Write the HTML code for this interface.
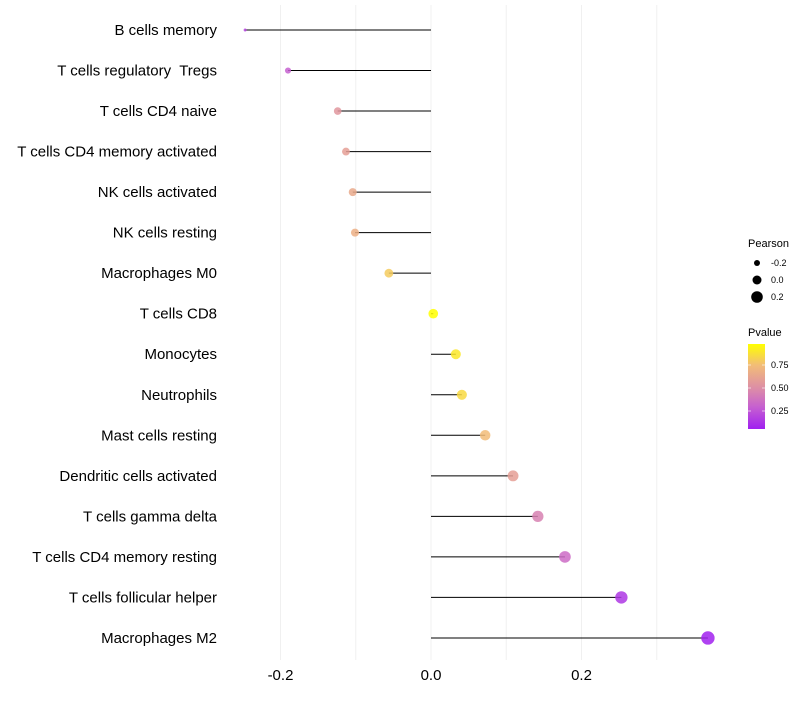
<!DOCTYPE html>
<html><head><meta charset="utf-8"><style>
body{margin:0;background:#fff;font-family:"Liberation Sans",sans-serif}
text{white-space:pre}
</style></head><body>
<svg id="chart" width="800" height="700" xmlns="http://www.w3.org/2000/svg">
<defs>
<linearGradient id="pgrad" x1="0" y1="1" x2="0" y2="0">
<stop offset="0" stop-color="#a020f0"/>
<stop offset="0.26" stop-color="#c660d0"/>
<stop offset="0.47" stop-color="#dc8ca8"/>
<stop offset="0.75" stop-color="#f2bc78"/>
<stop offset="1" stop-color="#ffff00"/>
</linearGradient>
</defs>
<g id="grid"></g>
<g id="marks"></g>
<g id="labels"></g>
<g id="legend">
<text x="748" y="247" font-size="11" fill="#000">Pearson</text>
<circle cx="757" cy="263" r="3" fill="#000"/>
<text x="771" y="266" font-size="9" fill="#000">-0.2</text>
<circle cx="757" cy="280" r="4.5" fill="#000"/>
<text x="771" y="283" font-size="9" fill="#000">0.0</text>
<circle cx="757" cy="297" r="5.8" fill="#000"/>
<text x="771" y="300" font-size="9" fill="#000">0.2</text>
<text x="748" y="336" font-size="11" fill="#000">Pvalue</text>
<rect x="748" y="344" width="17" height="85" fill="url(#pgrad)"/>
<line x1="748" y1="365" x2="751" y2="365" stroke="#fff" opacity="0.6"/><line x1="762" y1="365" x2="765" y2="365" stroke="#fff" opacity="0.6"/>
<line x1="748" y1="388" x2="751" y2="388" stroke="#fff" opacity="0.6"/><line x1="762" y1="388" x2="765" y2="388" stroke="#fff" opacity="0.6"/>
<line x1="748" y1="411" x2="751" y2="411" stroke="#fff" opacity="0.6"/><line x1="762" y1="411" x2="765" y2="411" stroke="#fff" opacity="0.6"/>
<text x="771" y="368" font-size="9" fill="#000">0.75</text>
<text x="771" y="391" font-size="9" fill="#000">0.50</text>
<text x="771" y="414" font-size="9" fill="#000">0.25</text>
</g>
</svg>
<script>
const categories=["B cells memory","T cells regulatory  Tregs","T cells CD4 naive","T cells CD4 memory activated","NK cells activated","NK cells resting","Macrophages M0","T cells CD8","Monocytes","Neutrophils","Mast cells resting","Dendritic cells activated","T cells gamma delta","T cells CD4 memory resting","T cells follicular helper","Macrophages M2"];
const pearson=[-0.247,-0.190,-0.124,-0.113,-0.104,-0.101,-0.056,0.003,0.033,0.041,0.072,0.109,0.142,0.178,0.253,0.368];
const pvalues=[0.2,0.3,0.55,0.6,0.65,0.68,0.8,0.98,0.9,0.85,0.75,0.6,0.45,0.35,0.15,0.07];
const xTicks=[-0.2,0,0.2];
const xTickLabels=["-0.2","0.0","0.2"];
const gridVals=[-0.2,-0.1,0,0.1,0.2,0.3];

const NS="http://www.w3.org/2000/svg";
const x=v=>431+v*752.5;
const y=i=>30+i*40.53;
const r=v=>1.5+5.2*Math.sqrt(Math.max(0,(v+0.247)/0.615));
const stops=[[0.065,[160,32,240]],[0.3,[198,96,208]],[0.5,[220,140,168]],[0.75,[242,188,120]],[0.978,[255,255,0]]];
function col(p){
  if(p<=stops[0][0])return "rgb("+stops[0][1]+")";
  for(let k=1;k<stops.length;k++){
    if(p<=stops[k][0]){const a=stops[k-1],b=stops[k],t=(p-a[0])/(b[0]-a[0]);
      return "rgb("+a[1].map((c,j)=>Math.round(c+(b[1][j]-c)*t)).join(",")+")";}
  }
  return "rgb(255,255,0)";
}
function mk(t,attrs,parent){const e=document.createElementNS(NS,t);for(const k in attrs)e.setAttribute(k,attrs[k]);parent.appendChild(e);return e;}
const grid=document.getElementById('grid'),marks=document.getElementById('marks'),labels=document.getElementById('labels');
gridVals.forEach(v=>{
  const l=mk('line',{x1:x(v),x2:x(v),y1:5,y2:660,stroke:'#f0f0f0','stroke-width':1},grid);
  
  
});
categories.forEach((c,i)=>{
  const t=mk('text',{x:217,y:y(i)+5,'text-anchor':'end','font-size':15,fill:'#000'},labels);
  t.textContent=c;
  
  
  const l=mk('line',{x1:x(0),x2:x(pearson[i]),y1:y(i),y2:y(i),stroke:'#000','stroke-width':1},marks);
  
  
  const d=mk('circle',{cx:x(pearson[i]),cy:y(i),r:r(pearson[i]),fill:col(pvalues[i]),'fill-opacity':0.85},marks);
  
  
});
xTicks.forEach((v,i)=>{
  const t=mk('text',{x:x(v),y:680,'text-anchor':'middle','font-size':15,fill:'#000'},labels);
  t.textContent=xTickLabels[i];
  
  
});
</script>
</body></html>
